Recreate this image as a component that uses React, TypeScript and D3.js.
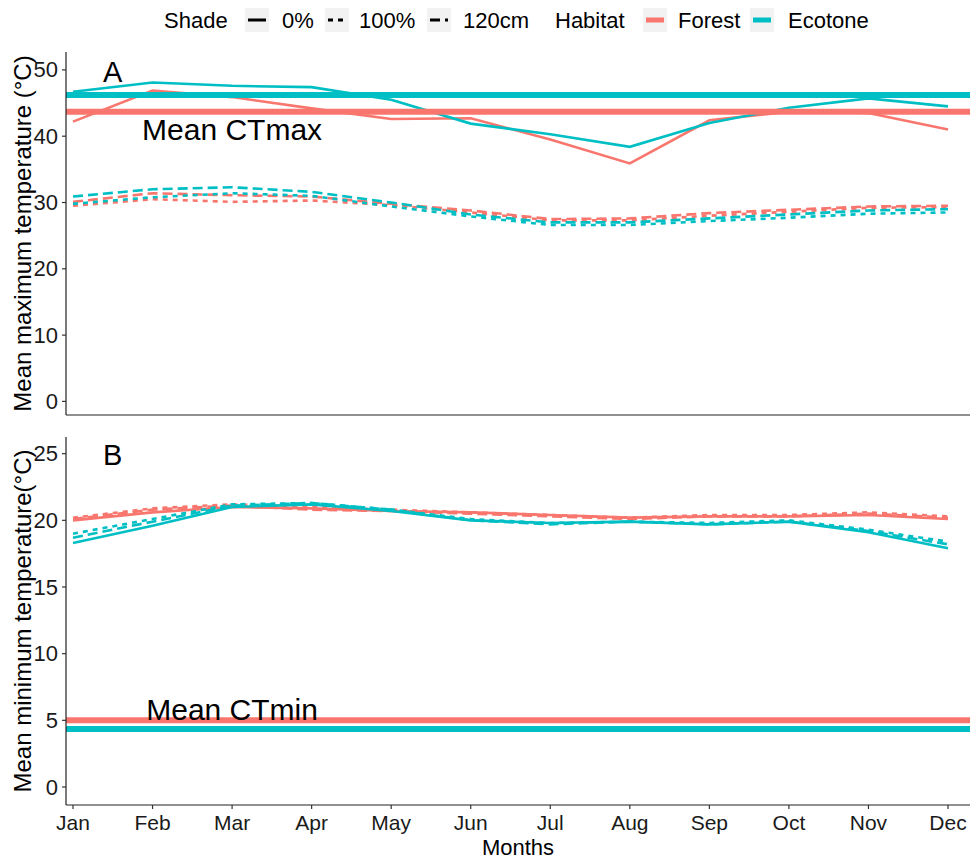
import React from "react";
import * as d3 from "d3";

const months = ["Jan", "Feb", "Mar", "Apr", "May", "Jun", "Jul", "Aug", "Sep", "Oct", "Nov", "Dec"];
const shadeLevels = ["0%", "100%", "120cm"];
const habitats = ["Forest", "Ecotone"];

// Panel A: mean maximum temperature
const maxForest0 = [42.2, 46.9, 45.9, 44.2, 42.6, 42.7, 39.5, 35.9, 42.4, 43.7, 43.5, 41.0];
const maxForest100 = [29.5, 30.5, 30.1, 30.3, 29.6, 28.5, 27.3, 27.3, 28.0, 28.6, 29.2, 29.3];
const maxForest120 = [30.1, 31.4, 31.1, 30.9, 29.8, 28.8, 27.5, 27.6, 28.4, 28.9, 29.4, 29.5];
const maxEcotone0 = [46.7, 48.1, 47.6, 47.4, 45.5, 41.9, 40.3, 38.4, 42.0, 44.3, 45.7, 44.5];
const maxEcotone100 = [29.8, 30.8, 31.4, 31.0, 29.4, 27.9, 26.6, 26.6, 27.2, 27.7, 28.3, 28.5];
const maxEcotone120 = [30.9, 32.0, 32.3, 31.6, 30.0, 28.2, 27.0, 27.0, 27.6, 28.2, 28.8, 29.0];

// Panel B: mean minimum temperature
const minForest0 = [20.0, 20.6, 21.0, 20.9, 20.7, 20.6, 20.4, 20.2, 20.3, 20.3, 20.4, 20.1];
const minForest100 = [20.2, 20.9, 21.2, 21.0, 20.8, 20.6, 20.4, 20.2, 20.4, 20.4, 20.6, 20.3];
const minForest120 = [20.1, 20.8, 21.1, 20.8, 20.7, 20.5, 20.3, 20.1, 20.3, 20.3, 20.5, 20.2];
const minEcotone0 = [18.3, 19.6, 21.0, 21.2, 20.7, 20.0, 19.8, 19.9, 19.7, 19.9, 19.1, 17.9];
const minEcotone100 = [19.0, 20.1, 21.2, 21.3, 20.8, 20.1, 19.8, 19.9, 19.8, 20.0, 19.3, 18.4];
const minEcotone120 = [18.7, 19.9, 21.1, 21.3, 20.8, 20.0, 19.7, 19.9, 19.7, 19.9, 19.2, 18.2];

// Critical thermal limits
const ctMax = [43.7, 46.2]; // Forest, Ecotone
const ctMin = [5.0, 4.35];

const ticksA = [0, 10, 20, 30, 40, 50];
const ticksB = [0, 5, 10, 15, 20, 25];

const colors: Record<string, string> = { Forest: "#F8766D", Ecotone: "#00BFC4" };
const dashes: Record<string, string | undefined> = { "0%": undefined, "100%": "5,5", "120cm": "10,5" };

const seriesA = [
  { habitat: "Forest", shade: "0%", values: maxForest0 },
  { habitat: "Forest", shade: "100%", values: maxForest100 },
  { habitat: "Forest", shade: "120cm", values: maxForest120 },
  { habitat: "Ecotone", shade: "0%", values: maxEcotone0 },
  { habitat: "Ecotone", shade: "100%", values: maxEcotone100 },
  { habitat: "Ecotone", shade: "120cm", values: maxEcotone120 },
];
const seriesB = [
  { habitat: "Forest", shade: "0%", values: minForest0 },
  { habitat: "Forest", shade: "100%", values: minForest100 },
  { habitat: "Forest", shade: "120cm", values: minForest120 },
  { habitat: "Ecotone", shade: "0%", values: minEcotone0 },
  { habitat: "Ecotone", shade: "100%", values: minEcotone100 },
  { habitat: "Ecotone", shade: "120cm", values: minEcotone120 },
];

const FONT = "'Liberation Sans', Arial, sans-serif";
const W = 971;
const H = 860;
const left = 66;
const right = 970;

const x = d3.scalePoint<string>().domain(months).range([73, 948]).padding(0);
const xIdx = (i: number) => x(months[0])! + i * x.step();

const yA = d3.scaleLinear().domain([-2.05, 52.7]).range([415, 52]);
const yB = d3.scaleLinear().domain([-1.35, 26.25]).range([805, 437]);

function Panel({ y, series, ct, ticks, letter, ctLabel, letterY, ctLabelY, title, top, bottom }: any) {
  const line = d3
    .line<number>()
    .x((_, i) => x(months[i])!)
    .y((d) => y(d));
  return (
    <g>
      {series.map((s: any, i: number) => (
        <path
          key={i}
          d={line(s.values) || ""}
          fill="none"
          stroke={colors[s.habitat]}
          strokeWidth={2.6}
          strokeDasharray={dashes[s.shade]}
        />
      ))}
      {ct.map((v: number, i: number) => (
        <line key={i} x1={left} x2={right} y1={y(v)} y2={y(v)} stroke={colors[habitats[i]]} strokeWidth={6} />
      ))}
      <text x={xIdx(0.5)} y={y(letterY)} fontSize={29} fontFamily={FONT} textAnchor="middle" dominantBaseline="central">
        {letter}
      </text>
      <text x={x("Mar")} y={y(ctLabelY)} fontSize={30} fontFamily={FONT} textAnchor="middle" dominantBaseline="central">
        {ctLabel}
      </text>
      {/* axes */}
      <line x1={left} x2={left} y1={top} y2={bottom} stroke="#222" strokeWidth={1.2} />
      <line x1={left} x2={right} y1={bottom} y2={bottom} stroke="#222" strokeWidth={1.2} />
      {ticks.map((t: number) => (
        <g key={t}>
          <line x1={left - 4} x2={left} y1={y(t)} y2={y(t)} stroke="#333" strokeWidth={1.2} />
          <text x={left - 8} y={y(t)} fontSize={22} fontFamily={FONT} textAnchor="end" dominantBaseline="central" fill="#1a1a1a">
            {t}
          </text>
        </g>
      ))}
      <text
        transform={`translate(31,${(top + bottom) / 2}) rotate(-90)`}
        fontSize={24}
        fontFamily={FONT}
        textAnchor="middle"
        fill="#000"
      >
        {title}
      </text>
    </g>
  );
}

function Legend() {
  const cy = 20;
  const box = 24;
  const shadeKeys = [245, 325, 427];
  const shadeLabels = [282, 359, 463];
  const habKeys = [643, 750];
  const habLabels = [678, 788];
  return (
    <g fontFamily={FONT} fontSize={22}>
      <text x={164} y={cy} dominantBaseline="central">Shade</text>
      {shadeLevels.map((s, i) => (
        <g key={s}>
          <rect x={shadeKeys[i]} y={cy - box / 2} width={box} height={box} fill="#F2F2F2" />
          <line
            x1={shadeKeys[i] + 3}
            x2={shadeKeys[i] + box - 3}
            y1={cy}
            y2={cy}
            stroke="#000"
            strokeWidth={3}
            strokeDasharray={dashes[s]}
          />
          <text x={shadeLabels[i]} y={cy} dominantBaseline="central">{s}</text>
        </g>
      ))}
      <text x={555} y={cy} dominantBaseline="central">Habitat</text>
      {habitats.map((h, i) => (
        <g key={h}>
          <rect x={habKeys[i]} y={cy - box / 2} width={box} height={box} fill="#F2F2F2" />
          <line x1={habKeys[i] + 3} x2={habKeys[i] + box - 3} y1={cy} y2={cy} stroke={colors[h]} strokeWidth={5} />
          <text x={habLabels[i]} y={cy} dominantBaseline="central">{h}</text>
        </g>
      ))}
    </g>
  );
}

export default function App() {
  return (
    <svg
      width={W}
      height={H}
      viewBox={`0 0 ${W} ${H}`}
      style={{ position: "absolute", left: 0, top: 0, display: "block", background: "#fff" }}
    >
      <rect width={W} height={H} fill="#fff" />
      <Legend />
      <Panel
        y={yA}
        series={seriesA}
        ct={ctMax}
        ticks={ticksA}
        letter="A"
        letterY={49.7}
        ctLabel="Mean CTmax"
        ctLabelY={41}
        title="Mean maximum temperature (°C)"
        top={52}
        bottom={415}
      />
      <Panel
        y={yB}
        series={seriesB}
        ct={ctMin}
        ticks={ticksB}
        letter="B"
        letterY={24.9}
        ctLabel="Mean CTmin"
        ctLabelY={5.8}
        title="Mean minimum temperature(°C)"
        top={437}
        bottom={805}
      />
      {months.map((m) => (
        <g key={m}>
          <line x1={x(m)} x2={x(m)} y1={805} y2={809} stroke="#333" strokeWidth={1.2} />
          <text x={x(m)} y={830} fontSize={21} fontFamily={FONT} textAnchor="middle" fill="#1a1a1a">
            {m}
          </text>
        </g>
      ))}
      <text x={518} y={855} fontSize={22} fontFamily={FONT} textAnchor="middle">
        Months
      </text>
    </svg>
  );
}
